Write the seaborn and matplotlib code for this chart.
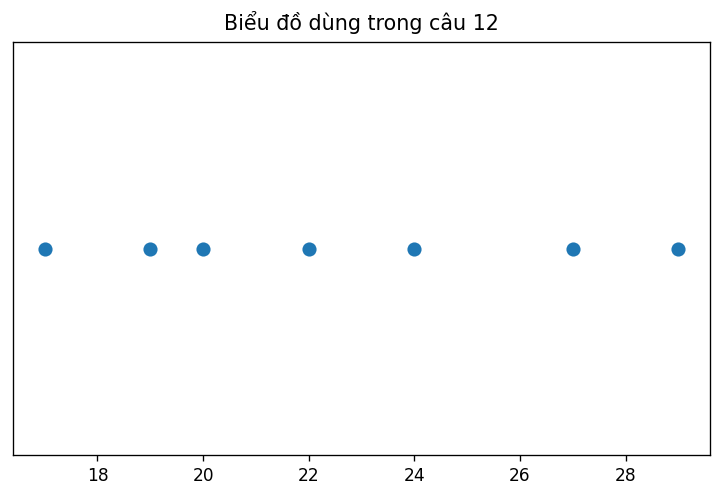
import matplotlib
matplotlib.use("Agg")
import matplotlib.pyplot as plt
import seaborn as sns
import pandas as pd

values = [17, 19, 20, 22, 24, 27, 29]
levels = [0, 0, 0, 0, 0, 0, 0]
title = "Biểu đồ dùng trong câu 12"

df = pd.DataFrame({"x": values, "y": levels})

fig, ax = plt.subplots(figsize=(722 / 120, 498 / 120), dpi=120)
fig.subplots_adjust(left=13 / 722, right=710 / 722, top=1 - 42 / 498, bottom=1 - 455 / 498)
sns.scatterplot(data=df, x="x", y="y", ax=ax, color="#1f77b4", s=72, linewidth=0)
ax.set_ylim(-1, 1)
ax.set_yticks([])
ax.set_xticks([18, 20, 22, 24, 26, 28])
ax.tick_params(axis="x", labelsize=10.2)
ax.set_xlabel("")
ax.set_ylabel("")
ax.set_title(title, fontsize=12.4, pad=7)
fig.savefig("out.png", dpi=120)
